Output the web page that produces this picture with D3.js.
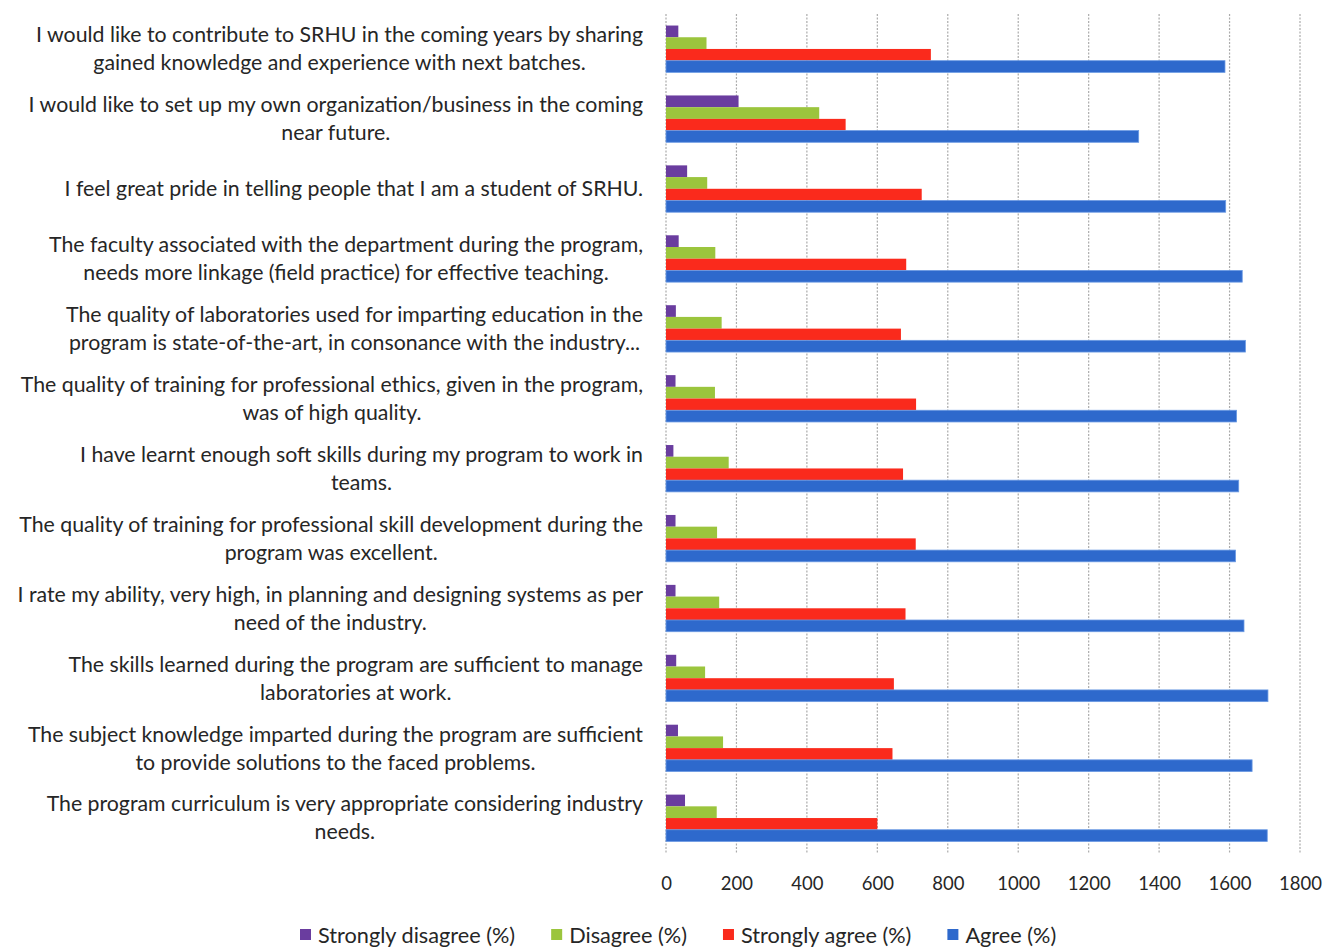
<!DOCTYPE html>
<html>
<head>
<meta charset="utf-8">
<script src="https://cdn.jsdelivr.net/npm/d3@7"></script>
<style>
  html, body { margin: 0; padding: 0; background: #fff; }
  svg { display: block; font-family: Lato, "Open Sans", sans-serif; }
</style>
</head>
<body>
<svg id="chart" width="1327" height="947"></svg>
<script>
// ---- data (top to bottom as shown) ----
const categories = [
  ["I would like to contribute to SRHU in the coming years by sharing", "gained knowledge and experience with next batches."],
  ["I would like to set up my own organization/business in the coming", "near future."],
  ["I feel great pride in telling people that I am a student of SRHU."],
  ["The faculty associated with the department during the program,", "needs more linkage (field practice) for effective teaching."],
  ["The quality of laboratories used for imparting education in the", "program is state-of-the-art, in consonance with the industry..."],
  ["The quality of training for professional ethics, given in the program,", "was of high quality."],
  ["I have learnt enough soft skills during my program to work in", "teams."],
  ["The quality of training for professional skill development during the", "program was excellent."],
  ["I rate my ability, very high, in planning and designing systems as per", "need of the industry."],
  ["The skills learned during the program are sufficient to manage", "laboratories at work."],
  ["The subject knowledge imparted during the program are sufficient", "to provide solutions to the faced problems."],
  ["The program curriculum is very appropriate considering industry", "needs."]
];
const seriesNames = ["Strongly disagree (%)", "Disagree (%)", "Strongly agree (%)", "Agree (%)"];
const stronglyDisagree = [35, 206, 60, 36, 28, 27, 21, 27, 27, 29, 34, 54];
const disagree         = [115, 435, 117, 140, 158, 139, 178, 145, 151, 111, 162, 144];
const stronglyAgree    = [752, 510, 726, 682, 667, 710, 673, 709, 680, 647, 643, 600];
const agree            = [1587, 1342, 1589, 1636, 1645, 1620, 1626, 1617, 1641, 1709, 1664, 1707];
const xTicks = [0, 200, 400, 600, 800, 1000, 1200, 1400, 1600, 1800];
const colors = ["#6a3d9f", "#9bc53d", "#fa2a1c", "#2e69cc"];

const seriesValues = [stronglyDisagree, disagree, stronglyAgree, agree];

// ---- layout ----
const svg = d3.select("#chart");
const plot = { left: 666, right: 1300, top: 14, bottom: 853 };
const textColor = "#262626";

const x = d3.scaleLinear().domain([0, 1800]).range([plot.left, plot.right]);
const y = d3.scaleBand().domain(d3.range(categories.length))
  .range([plot.top, plot.bottom]).paddingInner(0.33).paddingOuter(0.165);
const ySub = d3.scaleBand().domain(d3.range(seriesNames.length))
  .range([0, y.bandwidth()]).padding(0);

// gridlines (dashed)
svg.append("g").selectAll("line").data(xTicks).join("line")
  .attr("x1", d => x(d)).attr("x2", d => x(d))
  .attr("y1", plot.top).attr("y2", plot.bottom)
  .attr("stroke", "#ababab").attr("stroke-width", 1.2)
  .attr("stroke-dasharray", "2,1.5");

// bars
const groups = svg.append("g").selectAll("g").data(categories).join("g")
  .attr("transform", (d, i) => `translate(0,${y(i)})`);
groups.selectAll("rect")
  .data((d, i) => seriesValues.map((vals, s) => ({ s, v: vals[i] })))
  .join("rect")
  .attr("x", x(0))
  .attr("y", d => ySub(d.s))
  .attr("width", d => x(d.v) - x(0))
  .attr("height", ySub.bandwidth())
  .attr("fill", d => colors[d.s])
  .attr("stroke", d => d.s === 3 ? "#6b9ae3" : "none")
  .attr("stroke-width", 0.8);

// x axis labels
const xAxis = d3.axisBottom(x).tickValues(xTicks).tickFormat(d3.format("d"))
  .tickSize(0).tickPadding(0);
const xg = svg.append("g").attr("transform", `translate(0,${plot.bottom + 24})`).call(xAxis);
xg.select(".domain").remove();
xg.selectAll("text").attr("font-size", 18.5).attr("fill", textColor)
  .attr("font-family", "Lato, 'Open Sans', sans-serif");

// category labels
const labelRight = 643;
const lineH = 28;
const lbl = svg.append("g").attr("font-size", 21.3).attr("fill", textColor);
categories.forEach((lines, i) => {
  const cy = y(i) + y.bandwidth() / 2;
  const t0 = lbl.append("text").attr("text-anchor", "end")
    .attr("x", labelRight)
    .attr("y", cy - (lines.length - 1) * lineH / 2)
    .attr("dy", "0.35em").text(lines[0]);
  const w0 = t0.node().getComputedTextLength();
  const center = labelRight - w0 / 2;
  lines.slice(1).forEach((ln, j) => {
    lbl.append("text").attr("text-anchor", "middle")
      .attr("x", center)
      .attr("y", cy - (lines.length - 1) * lineH / 2 + (j + 1) * lineH)
      .attr("dy", "0.35em").text(ln);
  });
});

// legend
const leg = svg.append("g").attr("transform", "translate(300,935)");
let lx = 0;
seriesNames.forEach((name, i) => {
  const g = leg.append("g").attr("transform", `translate(${lx},0)`);
  g.append("rect").attr("x", 0).attr("y", -6).attr("width", 11).attr("height", 11).attr("fill", colors[i]);
  const t = g.append("text").attr("x", 18).attr("y", 0).attr("dy", "0.35em")
    .attr("font-size", 21.7).attr("fill", textColor).text(name);
  lx += 18 + t.node().getComputedTextLength() + 36;
});
</script>
</body>
</html>
